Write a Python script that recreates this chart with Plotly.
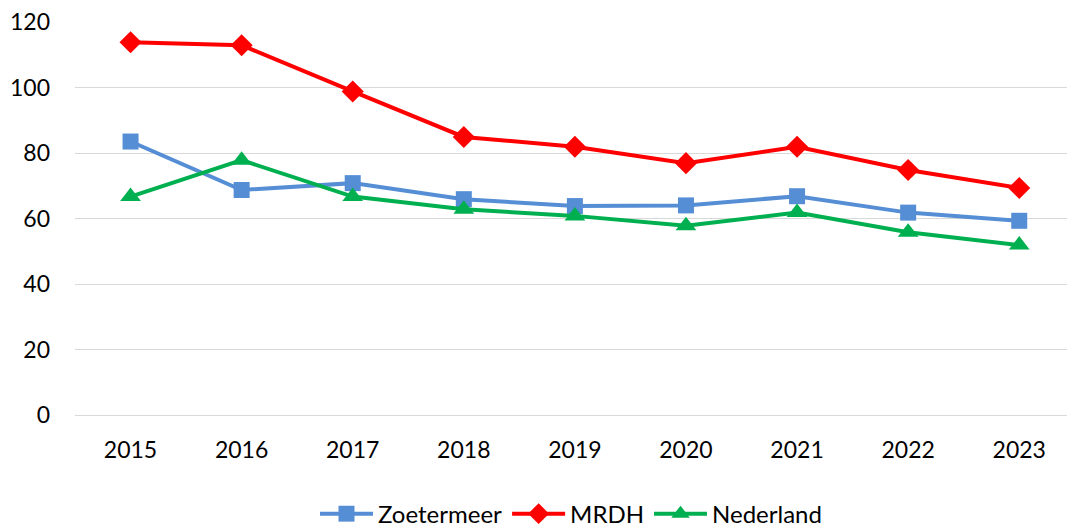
import plotly.graph_objects as go

years = ["2015", "2016", "2017", "2018", "2019", "2020", "2021", "2022", "2023"]
zoetermeer = [83.5, 68.7, 70.8, 65.9, 63.8, 64.0, 66.8, 61.8, 59.3]
mrdh = [113.8, 112.9, 98.8, 84.9, 81.9, 76.9, 81.9, 74.8, 69.3]
nederland = [66.7, 77.8, 66.7, 62.8, 60.8, 57.8, 61.8, 55.8, 51.9]

series = [
    ("Zoetermeer", zoetermeer, "#558ED5", "square", 16),
    ("MRDH", mrdh, "#FF0000", "diamond", 17),
    ("Nederland", nederland, "#00B050", "triangle-up", 18),
]

fig = go.Figure()
for name, vals, color, sym, size in series:
    fig.add_trace(go.Scatter(
        x=years, y=vals, name=name, mode="lines+markers",
        line=dict(color=color, width=4),
        marker=dict(symbol=sym, size=size, color=color),
    ))

fig.update_layout(
    width=1067, height=531,
    margin=dict(l=75, r=0, t=22, b=116, autoexpand=False),
    paper_bgcolor="white", plot_bgcolor="white",
    font=dict(family="Lato, Calibri, sans-serif", size=23, color="#000000"),
    showlegend=True,
    legend=dict(orientation="h", x=0.5, xanchor="center", y=-0.252, yanchor="middle",
                font=dict(size=24), itemwidth=53, tracegroupgap=0),
)
fig.update_xaxes(type="category", range=[-0.5, 8.43], showgrid=False, showline=False,
                 ticks="", ticklabelstandoff=19, automargin=False)
fig.update_yaxes(range=[0, 120], dtick=20, showgrid=True, gridcolor="#D9D9D9", gridwidth=1,
                 zeroline=True, zerolinecolor="#D9D9D9", zerolinewidth=1,
                 showline=False, ticks="", ticklabelstandoff=24, automargin=False)

post = (
    "document.documentElement.style.margin='0';"
    "document.body.style.margin='0';"
    "document.body.style.overflow='hidden';"
    "document.body.style.lineHeight='0';"
    "document.querySelectorAll('.svg-container').forEach(function(e){e.style.display='block';});"
)
fig.write_html("out.html", post_script=post, config={"displayModeBar": False})
